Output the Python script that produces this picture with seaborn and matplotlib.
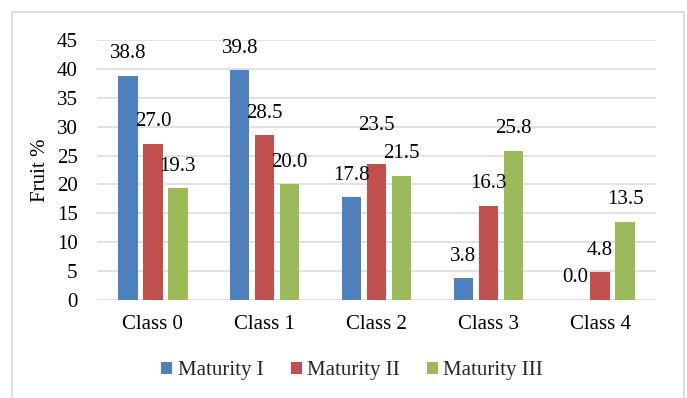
import matplotlib
matplotlib.use("Agg")
import matplotlib.pyplot as plt
from matplotlib.patches import Patch, Rectangle
import seaborn as sns
import pandas as pd

classes = ["Class 0", "Class 1", "Class 2", "Class 3", "Class 4"]
maturity_1 = [38.8, 39.8, 17.8, 3.8, 0.0]
maturity_2 = [27.0, 28.5, 23.5, 16.3, 4.8]
maturity_3 = [19.3, 20.0, 21.5, 25.8, 13.5]
series_names = ["Maturity I", "Maturity II", "Maturity III"]
y_ticks = [0, 5, 10, 15, 20, 25, 30, 35, 40, 45]

colors = ["#4F81BD", "#C0504D", "#9BBB59"]
grid_color = "#D9D9D9"

df = pd.DataFrame({
    "Class": classes * 3,
    "Fruit %": maturity_1 + maturity_2 + maturity_3,
    "Series": [series_names[0]] * 5 + [series_names[1]] * 5 + [series_names[2]] * 5,
})

sns.set_theme(style="white")
plt.rcParams["font.family"] = ["Liberation Serif", "DejaVu Serif"]

fig = plt.figure(figsize=(6.87, 3.98), dpi=100)
ax = fig.add_axes([97 / 687, 1 - 300 / 398, (656 - 97) / 687, 260 / 398])

sns.barplot(data=df, x="Class", y="Fruit %", hue="Series", order=classes,
            hue_order=series_names, palette=colors, saturation=1,
            width=0.671, gap=0.22, linewidth=0, ax=ax, legend=False, zorder=3)

ax.set_ylim(0, 45)
ax.set_xlim(-0.5, 4.5)
ax.set_yticks(y_ticks)
ax.set_yticklabels([str(t) for t in y_ticks], fontsize=15, color="#000000")
ax.tick_params(axis="y", length=0, pad=14)
ax.tick_params(axis="x", length=0, pad=11, labelsize=15, colors="#000000")
ax.yaxis.grid(True, color=grid_color, linewidth=1.1, zorder=0)
ax.set_axisbelow(True)
for side in ax.spines.values():
    side.set_visible(False)
ax.set_xlabel("")
ax.set_ylabel("Fruit %", fontsize=15, color="#000000", labelpad=5)

# value labels above every bar; the Class 2 / Maturity II label sits higher
extra = {(1, 2): 12}
for si, container in enumerate(ax.containers):
    for ci, bar in enumerate(container):
        val = bar.get_height()
        ax.annotate(f"{val:.1f}",
                    xy=(bar.get_x() + bar.get_width() / 2, val),
                    xytext=(0, 9 + extra.get((si, ci), 0)),
                    textcoords="offset points", ha="center", va="bottom",
                    fontsize=15, color="#000000", zorder=5)

handles = [Patch(facecolor=c, edgecolor="none", label=n)
           for c, n in zip(colors, series_names)]
fig.legend(handles=handles, loc="center", bbox_to_anchor=(352 / 687, 1 - 371 / 398),
           ncol=3, frameon=False, fontsize=15, handlelength=0.53,
           handleheight=0.53, handletextpad=0.25, columnspacing=1.3,
           borderpad=0)

# light chart-area border
fig.patches.append(Rectangle((12 / 687, -0.05), (684 - 12) / 687, 1.05 - 12 / 398,
                             transform=fig.transFigure, fill=False,
                             edgecolor=grid_color, linewidth=1.2, zorder=0))

fig.savefig("out.png", dpi=100)
